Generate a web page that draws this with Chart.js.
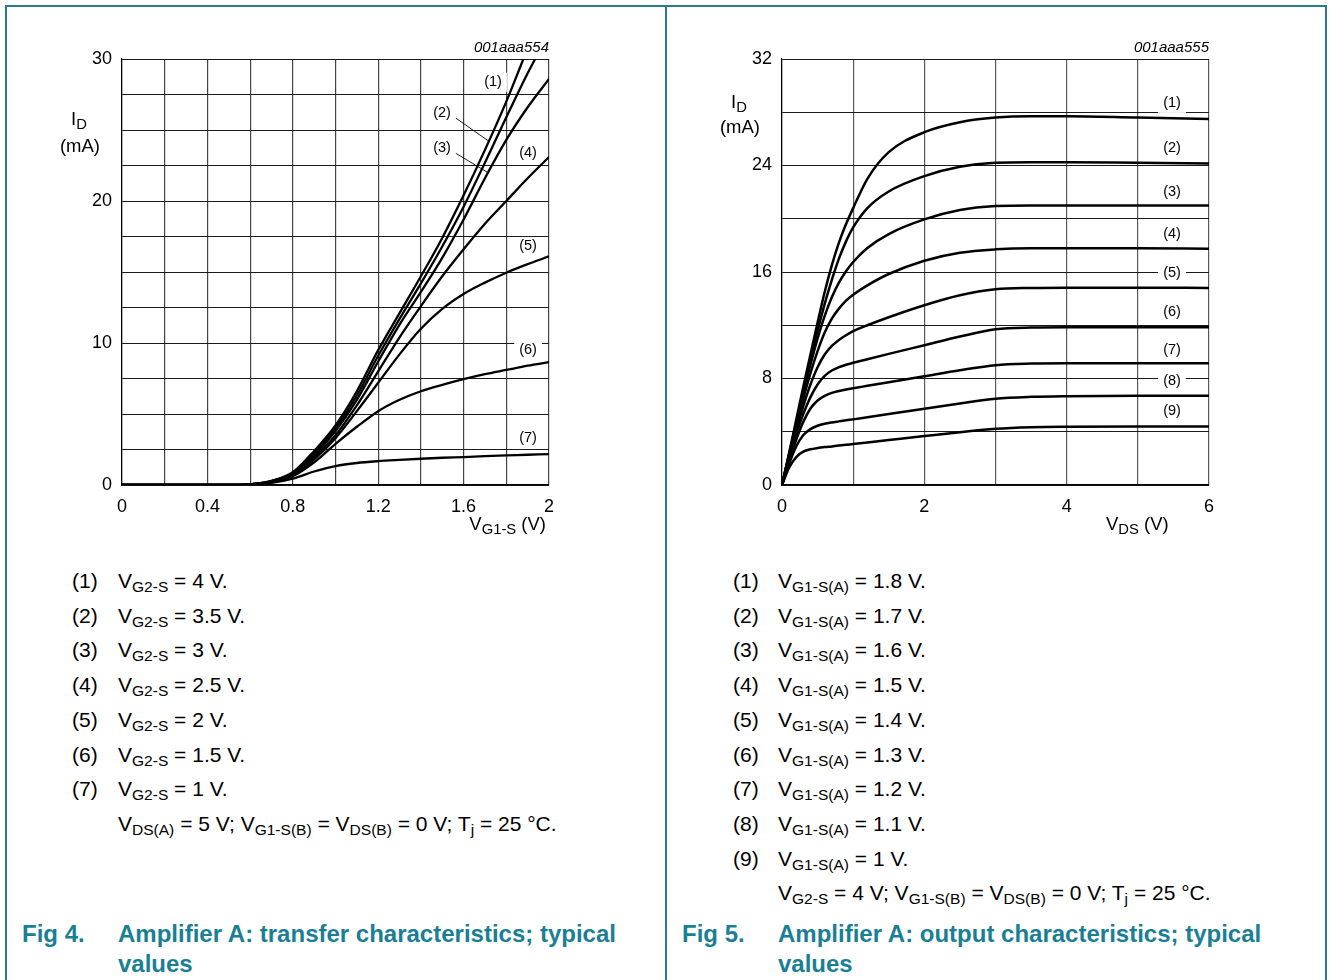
<!DOCTYPE html>
<html><head><meta charset="utf-8">
<script src="https://cdn.jsdelivr.net/npm/chart.js@4.4.1/dist/chart.umd.min.js"></script>
<style>
body{margin:0;background:#fff;width:1330px;height:980px;overflow:hidden;position:relative;font-family:"Liberation Sans",Arial,sans-serif;color:#000}
.fr{position:absolute;background:#2a7c8d}
.wrap{position:absolute;top:0;width:665px;height:560px}
.t{position:absolute;white-space:nowrap;font-size:21px;line-height:24px}
.t sub{font-size:0.74em;vertical-align:-0.28em;line-height:0}
.ax{position:absolute;white-space:nowrap;font-size:18.5px;line-height:22px}
.ax sub{font-size:0.8em;vertical-align:-0.28em;line-height:0}
.id{position:absolute;white-space:nowrap;font-size:15px;font-style:italic;line-height:18px}
.cap{position:absolute;font-family:"Liberation Sans Narrow","Arial Narrow",sans-serif;font-weight:bold;font-size:24px;color:#1a7f95;white-space:nowrap;line-height:30px}
</style></head><body>
<div class="fr" style="left:5px;top:5px;width:1321px;height:1.5px"></div>
<div class="fr" style="left:5px;top:5px;width:1.5px;height:975px"></div>
<div class="fr" style="left:665px;top:5px;width:1.5px;height:975px"></div>
<div class="fr" style="left:1325px;top:5px;width:1.5px;height:975px"></div>

<div class="wrap" style="left:0"><canvas id="c1"></canvas></div>
<div class="wrap" style="left:665px"><canvas id="c2"></canvas></div>

<div class="id" style="right:781px;top:38px">001aaa554</div>
<div class="id" style="right:121px;top:38px">001aaa555</div>

<div class="ax" style="left:57px;top:108px;width:44px;text-align:center">I<sub>D</sub></div>
<div class="ax" style="left:50px;top:135px;width:60px;text-align:center">(mA)</div>
<div class="ax" style="left:717px;top:91px;width:44px;text-align:center">I<sub>D</sub></div>
<div class="ax" style="left:710px;top:116px;width:60px;text-align:center">(mA)</div>
<div class="ax" style="right:784px;top:513px">V<sub>G1-S</sub> (V)</div>
<div class="ax" style="left:1106px;top:513px">V<sub>DS</sub> (V)</div>

<div id="leg1"></div>
<div id="leg2"></div>

<div class="cap" style="left:22px;top:919px">Fig 4.</div>
<div class="cap" style="left:118px;top:919px">Amplifier A: transfer characteristics; typical</div>
<div class="cap" style="left:118px;top:949px">values</div>
<div class="cap" style="left:682px;top:919px">Fig 5.</div>
<div class="cap" style="left:778px;top:919px">Amplifier A: output characteristics; typical</div>
<div class="cap" style="left:778px;top:949px">values</div>

<script>
// ---------- Fig 4 data: transfer characteristics ----------
const transferV1 = [0, 0.5, 0.6, 0.7, 0.8, 0.9, 1.0, 1.1, 1.2, 1.3, 1.4, 1.5, 1.6, 1.7, 1.8, 1.88];
const transferV2 = [0, 0.5, 0.6, 0.7, 0.8, 0.9, 1.0, 1.1, 1.2, 1.3, 1.4, 1.5, 1.6, 1.7, 1.8, 1.9, 1.935];
const transferV  = [0, 0.5, 0.6, 0.7, 0.8, 0.9, 1.0, 1.1, 1.2, 1.3, 1.4, 1.5, 1.6, 1.7, 1.8, 1.9, 2.0];
const transferI1 = [0, 0, 0.05, 0.3, 0.9, 2.4, 4.2, 6.6, 9.5, 12.1, 14.7, 17.4, 20.4, 23.6, 27.0, 30];
const transferI2 = [0, 0, 0.05, 0.28, 0.85, 2.25, 4.0, 6.3, 9.1, 11.7, 14.2, 16.8, 19.6, 22.7, 25.9, 29.0, 30];
const transferI3 = [0, 0, 0.05, 0.26, 0.8, 2.1, 3.8, 6.0, 8.7, 11.3, 13.6, 16.0, 18.7, 21.6, 24.3, 26.6, 28.6];
const transferI4 = [0, 0, 0.05, 0.24, 0.75, 1.95, 3.5, 5.6, 8.0, 10.4, 12.6, 14.7, 16.6, 18.4, 20.0, 21.6, 23.1];
const transferI5 = [0, 0, 0.05, 0.22, 0.7, 1.8, 3.3, 5.2, 7.2, 9.2, 11.0, 12.4, 13.45, 14.25, 14.95, 15.55, 16.1];
const transferI6 = [0, 0, 0.05, 0.2, 0.62, 1.6, 2.9, 4.1, 5.2, 6.0, 6.6, 7.05, 7.45, 7.8, 8.1, 8.4, 8.65];
const transferI7 = [0, 0, 0.03, 0.15, 0.45, 0.95, 1.33, 1.55, 1.68, 1.77, 1.85, 1.92, 1.97, 2.03, 2.08, 2.13, 2.18];
const transferXTickLabels = ['0', '0.4', '0.8', '1.2', '1.6', '2'];
const transferYTickLabels = ['0', '10', '20', '30'];
const transferCurveLabels = ['(1)', '(2)', '(3)', '(4)', '(5)', '(6)', '(7)'];
const transferVG2 = ['4', '3.5', '3', '2.5', '2', '1.5', '1'];

// ---------- Fig 5 data: output characteristics ----------
const outputV  = [0, 0.1, 0.2, 0.3, 0.4, 0.5, 0.6, 0.7, 0.8, 0.9, 1.0, 1.2, 1.5, 2.0, 2.5, 3.0, 3.5, 4, 5, 6];
const outputI1 = [0, 2.4, 4.9, 7.4, 9.8, 12.2, 14.5, 16.5, 18.2, 19.6, 20.8, 23.0, 25.0, 26.5, 27.25, 27.6, 27.7, 27.7, 27.6, 27.5];
const outputI2 = [0, 2.3, 4.7, 7.1, 9.4, 11.6, 13.6, 15.4, 17.0, 18.3, 19.35, 20.8, 22.05, 23.2, 23.9, 24.2, 24.25, 24.25, 24.2, 24.15];
const outputI3 = [0, 2.3, 4.6, 6.9, 9.05, 11.0, 12.7, 14.1, 15.2, 16.05, 16.75, 17.8, 18.85, 19.95, 20.65, 20.95, 21.0, 21.0, 21.0, 21.0];
const outputI4 = [0, 2.2, 4.4, 6.5, 8.4, 10.05, 11.45, 12.5, 13.25, 13.85, 14.3, 15.0, 15.85, 16.85, 17.45, 17.7, 17.78, 17.78, 17.78, 17.75];
const outputI5 = [0, 2.1, 4.1, 5.95, 7.55, 8.85, 9.8, 10.45, 10.9, 11.25, 11.55, 12.0, 12.6, 13.5, 14.25, 14.7, 14.8, 14.82, 14.82, 14.8];
const outputI6 = [0, 2.0, 3.8, 5.35, 6.6, 7.55, 8.2, 8.6, 8.85, 9.03, 9.18, 9.45, 9.85, 10.5, 11.15, 11.7, 11.83, 11.85, 11.85, 11.85];
const outputI7 = [0, 1.8, 3.4, 4.75, 5.75, 6.35, 6.7, 6.92, 7.06, 7.17, 7.27, 7.45, 7.72, 8.17, 8.62, 9.0, 9.12, 9.15, 9.15, 9.15];
const outputI8 = [0, 1.6, 2.9, 3.75, 4.2, 4.45, 4.6, 4.7, 4.78, 4.86, 4.93, 5.09, 5.33, 5.73, 6.13, 6.48, 6.62, 6.67, 6.7, 6.7];
const outputI9 = [0, 1.3, 2.1, 2.5, 2.68, 2.78, 2.85, 2.9, 2.96, 3.02, 3.08, 3.2, 3.38, 3.68, 3.97, 4.22, 4.34, 4.38, 4.4, 4.4];
const outputXTickLabels = ['0', '2', '4', '6'];
const outputYTickLabels = ['0', '8', '16', '24', '32'];
const outputCurveLabels = ['(1)', '(2)', '(3)', '(4)', '(5)', '(6)', '(7)', '(8)', '(9)'];
const outputVG1 = ['1.8', '1.7', '1.6', '1.5', '1.4', '1.3', '1.2', '1.1', '1'];

// ---------- label anchor positions (data units) ----------
const transferLabelAt = [[1.738, 28.4], [1.499, 26.2], [1.499, 23.7], [1.902, 23.4], [1.902, 16.8], [1.902, 9.5], [1.902, 3.3]];
const transferLeaders = [[1.548, 26.0, 1.724, 24.15], [1.548, 23.5, 1.714, 22.0]];
const outputLabelAt = [[5.48, 28.7], [5.48, 25.3], [5.48, 22.0], [5.48, 18.85], [5.48, 15.9], [5.48, 13.0], [5.48, 10.14], [5.48, 7.8], [5.48, 5.56]];

function pts(xs, ys) { return xs.map((x, i) => ({ x: x, y: ys[i] })); }

const tickFont = { family: '"Liberation Sans", Arial, sans-serif', size: 18 };

function labelPlugin(labels, at, leaders) {
  return {
    id: 'curveLabels',
    afterDatasetsDraw(chart) {
      const ctx = chart.ctx, xs = chart.scales.x, ys = chart.scales.y;
      ctx.save();
      ctx.font = '14.5px "Liberation Sans", Arial, sans-serif';
      ctx.textAlign = 'center';
      ctx.textBaseline = 'middle';
      (leaders || []).forEach(l => {
        ctx.beginPath();
        ctx.strokeStyle = '#000';
        ctx.lineWidth = 0.9;
        ctx.moveTo(xs.getPixelForValue(l[0]), ys.getPixelForValue(l[1]));
        ctx.lineTo(xs.getPixelForValue(l[2]), ys.getPixelForValue(l[3]));
        ctx.stroke();
      });
      labels.forEach((t, i) => {
        const px = xs.getPixelForValue(at[i][0]), py = ys.getPixelForValue(at[i][1]);
        const w = ctx.measureText(t).width;
        ctx.fillStyle = '#fff';
        ctx.fillRect(px - w / 2 - 5, py - 9, w + 10, 19);
        ctx.fillStyle = '#000';
        ctx.fillText(t, px, py);
      });
      ctx.restore();
    }
  };
}

function makeChart(id, datasets, xMax, xStep, xLabels, xEvery, yMax, yStep, yLabels, yEvery, yWidth, padRight, lw, gx, gy, plugin) {
  return new Chart(document.getElementById(id), {
    type: 'scatter',
    data: {
      datasets: datasets.map(d => ({
        data: d, showLine: true, pointRadius: 0, borderColor: '#000', borderWidth: lw,
        cubicInterpolationMode: 'monotone', fill: false
      }))
    },
    options: {
      responsive: true, maintainAspectRatio: false, animation: false,
      layout: { padding: { left: 0, top: 59, right: padRight, bottom: 0 } },
      plugins: { legend: { display: false }, tooltip: { enabled: false } },
      scales: {
        x: {
          type: 'linear', min: 0, max: xMax,
          afterFit: s => { s.height = 75; },
          ticks: {
            stepSize: xStep, autoSkip: false, maxRotation: 0, padding: 11, color: '#000', font: tickFont,
            callback: (v, i) => (i % xEvery === 0 ? xLabels[i / xEvery] : '')
          },
          grid: { color: gx, lineWidth: 1.2, drawTicks: false },
          border: { color: '#000', width: 1.2 }
        },
        y: {
          type: 'linear', min: 0, max: yMax,
          afterFit: s => { s.width = yWidth; },
          ticks: {
            stepSize: yStep, autoSkip: false, padding: 10, color: '#000', font: tickFont,
            callback: (v, i) => (i % yEvery === 0 ? yLabels[i / yEvery] : '')
          },
          grid: { color: gy, lineWidth: 1, drawTicks: false },
          border: { color: '#000', width: 1.2 }
        }
      }
    },
    plugins: [plugin]
  });
}

makeChart('c1', [
  pts(transferV1, transferI1), pts(transferV2, transferI2), pts(transferV, transferI3),
  pts(transferV, transferI4), pts(transferV, transferI5), pts(transferV, transferI6), pts(transferV, transferI7)
], 2, 0.2, transferXTickLabels, 2, 30, 2.5, transferYTickLabels, 4, 122, 116, 2.3, '#444', '#1a1a1a',
  labelPlugin(transferCurveLabels, transferLabelAt, transferLeaders));

makeChart('c2', [
  pts(outputV, outputI1), pts(outputV, outputI2), pts(outputV, outputI3), pts(outputV, outputI4),
  pts(outputV, outputI5), pts(outputV, outputI6), pts(outputV, outputI7), pts(outputV, outputI8), pts(outputV, outputI9)
], 6, 1, outputXTickLabels, 2, 32, 4, outputYTickLabels, 2, 117, 121, 2.5, '#5a5a5a', '#1a1a1a',
  labelPlugin(outputCurveLabels, outputLabelAt, null));

// ---------- legends ----------
function row(parent, x1, x2, y, num, html) {
  if (num) {
    const a = document.createElement('div');
    a.className = 't'; a.style.left = x1 + 'px'; a.style.top = (y - 12) + 'px'; a.textContent = num;
    parent.appendChild(a);
  }
  const b = document.createElement('div');
  b.className = 't'; b.style.left = x2 + 'px'; b.style.top = (y - 12) + 'px'; b.innerHTML = html;
  parent.appendChild(b);
}
const leg1 = document.getElementById('leg1');
transferVG2.forEach((v, i) => row(leg1, 72, 118, 581 + i * 34.7, transferCurveLabels[i], 'V<sub>G2-S</sub> = ' + v + ' V.'));
row(leg1, 0, 118, 824, '', 'V<sub>DS(A)</sub> = 5 V; V<sub>G1-S(B)</sub> = V<sub>DS(B)</sub> = 0 V; T<sub>j</sub> = 25 °C.');
const leg2 = document.getElementById('leg2');
outputVG1.forEach((v, i) => row(leg2, 733, 778, 581 + i * 34.7, outputCurveLabels[i], 'V<sub>G1-S(A)</sub> = ' + v + ' V.'));
row(leg2, 0, 778, 893, '', 'V<sub>G2-S</sub> = 4 V; V<sub>G1-S(B)</sub> = V<sub>DS(B)</sub> = 0 V; T<sub>j</sub> = 25 °C.');
</script>
</body></html>
